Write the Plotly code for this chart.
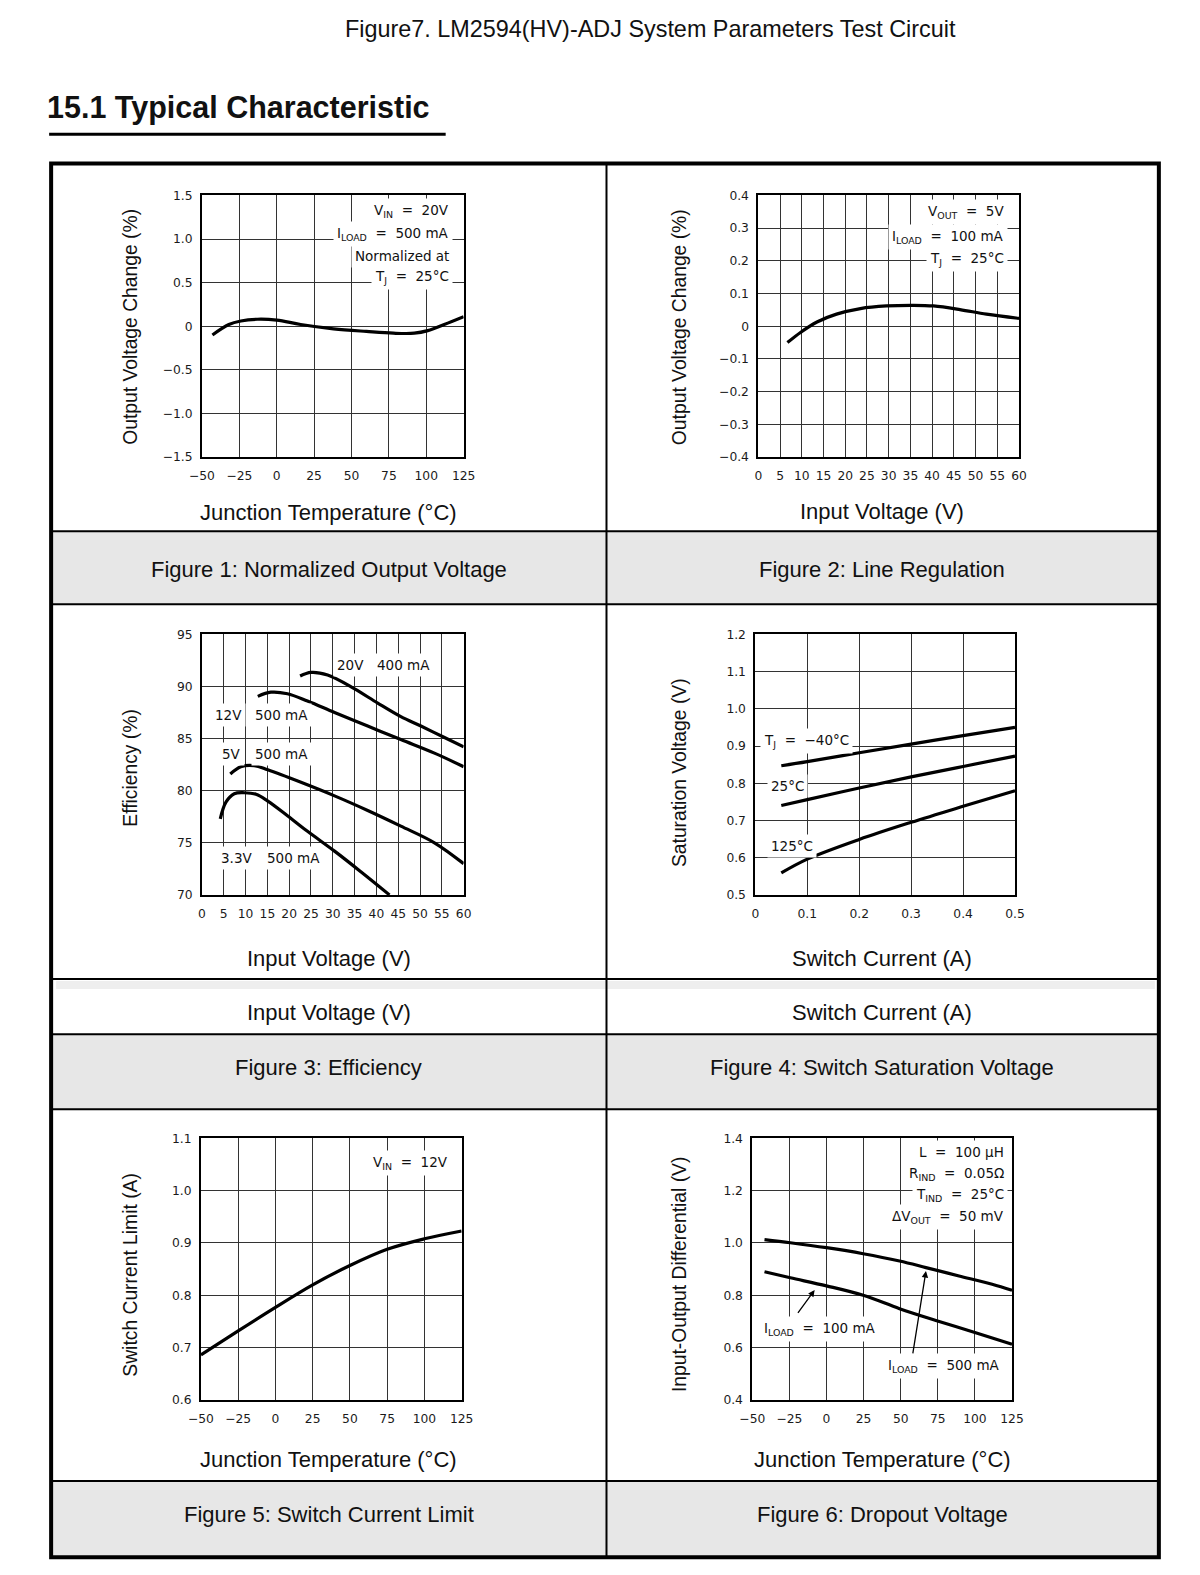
import plotly.graph_objects as go

# the page keeps its default 8px body margin; the photographed page comes out
# slightly squeezed (about 0.98 wide, 0.989 high), so positions are mapped
# back through that before being turned into paper fractions
OFF = 8
W, H = 1184, 1559
SX, DX = 0.98, 12
SY, DY = 0.989, 7
FONT = "Liberation Sans, Arial, sans-serif"
PLOTTER = "DejaVu Sans, sans-serif"
GRID = "#333333"


def px(x):
    return ((x - DX) / SX - OFF) / W


def py(y):
    return 1 - ((y - DY) / SY - OFF) / H


# ---- Figure 1: normalized output voltage vs junction temperature
fig1_temp = [-43, -32, -24, -13, 0, 16, 38, 60, 78, 92, 101, 112, 125]
fig1_change = [-0.10, 0.02, 0.06, 0.08, 0.07, 0.02, -0.03, -0.06, -0.08, -0.08, -0.05, 0.02, 0.11]
fig1_xticks = [-50, -25, 0, 25, 50, 75, 100, 125]
fig1_xtext = ["−50", "−25", "0", "25", "50", "75", "100", "125"]
fig1_yticks = [-1.5, -1.0, -0.5, 0, 0.5, 1.0, 1.5]
fig1_ytext = ["−1.5", "−1.0", "−0.5", "0", "0.5", "1.0", "1.5"]

# ---- Figure 2: line regulation
fig2_vin = [6.7, 9.7, 13.5, 18, 23.5, 29.5, 35.7, 40.3, 46.4, 52.5, 60]
fig2_change = [-0.05, -0.019, 0.013, 0.037, 0.054, 0.062, 0.064, 0.062, 0.051, 0.037, 0.024]
fig2_xticks = list(range(0, 61, 5))
fig2_xtext = [str(v) for v in fig2_xticks]
fig2_yticks = [-0.4, -0.3, -0.2, -0.1, 0, 0.1, 0.2, 0.3, 0.4]
fig2_ytext = ["−0.4", "−0.3", "−0.2", "−0.1", "0", "0.1", "0.2", "0.3", "0.4"]

# ---- Figure 3: efficiency
eff20_vin = [22.5, 25, 28.8, 34.9, 40.3, 45.6, 50.2, 55.6, 60]
eff20 = [91.0, 91.35, 91.1, 89.8, 88.4, 87.1, 86.2, 85.1, 84.2]
eff12_vin = [12.8, 15.8, 19.6, 24.2, 30.4, 38, 45.6, 53.3, 60]
eff12 = [89.05, 89.45, 89.3, 88.6, 87.5, 86.2, 84.9, 83.6, 82.3]
eff5_vin = [6.5, 8.9, 12.0, 15.1, 22.7, 30.4, 38, 45.6, 53.3, 60]
eff5 = [81.6, 82.3, 82.4, 82.0, 80.8, 79.5, 78.1, 76.6, 75.0, 73.0]
eff33_vin = [4.2, 5.5, 7.4, 9.7, 12.4, 15.1, 19.6, 24.2, 30.4, 36.5, 43.0]
eff33 = [77.3, 78.9, 79.7, 79.8, 79.65, 79.0, 77.6, 76.1, 74.2, 72.2, 70.0]
fig3_xticks = list(range(0, 61, 5))
fig3_xtext = [str(v) for v in fig3_xticks]
fig3_yticks = [70, 75, 80, 85, 90, 95]
fig3_ytext = [str(v) for v in fig3_yticks]

# ---- Figure 4: switch saturation voltage
isw = [0.05, 0.1, 0.2, 0.3, 0.4, 0.5]
vsat_m40 = [0.847, 0.858, 0.882, 0.905, 0.928, 0.95]
vsat_25 = [0.74, 0.756, 0.787, 0.817, 0.845, 0.873]
vsat_125 = [0.559, 0.596, 0.649, 0.695, 0.738, 0.78]
fig4_xticks = [0, 0.1, 0.2, 0.3, 0.4, 0.5]
fig4_xtext = ["0", "0.1", "0.2", "0.3", "0.4", "0.5"]
fig4_yticks = [0.5, 0.6, 0.7, 0.8, 0.9, 1.0, 1.1, 1.2]
fig4_ytext = ["0.5", "0.6", "0.7", "0.8", "0.9", "1.0", "1.1", "1.2"]

# ---- Figure 5: switch current limit
fig5_temp = [-50, -25, 0, 25, 50, 75, 100, 125]
fig5_limit = [0.686, 0.732, 0.777, 0.82, 0.857, 0.888, 0.908, 0.923]
fig5_yticks = [0.6, 0.7, 0.8, 0.9, 1.0, 1.1]
fig5_ytext = ["0.6", "0.7", "0.8", "0.9", "1.0", "1.1"]

# ---- Figure 6: dropout voltage
fig6_temp = [-41.8, -24.4, 0, 24.7, 49.2, 67, 89.3, 111.6, 125]
drop_500 = [1.013, 1.001, 0.982, 0.959, 0.931, 0.906, 0.874, 0.842, 0.819]
fig6_temp_100 = [-41.8, -24.4, 0, 24.7, 49.2, 73.7, 100.5, 125]
drop_100 = [0.890, 0.867, 0.836, 0.800, 0.749, 0.704, 0.657, 0.613]
fig6_yticks = [0.4, 0.6, 0.8, 1.0, 1.2, 1.4]
fig6_ytext = ["0.4", "0.6", "0.8", "1.0", "1.2", "1.4"]

temp_ticks = fig1_xticks
temp_text = fig1_xtext

fig = go.Figure()


def setup_axes(n, xpix, ypix, xr, yr, xt, xtt, yt, ytt):
    sfx = "" if n == 1 else str(n)
    common = dict(showgrid=True, gridcolor=GRID, gridwidth=1.3, showline=True,
                  mirror=True, linecolor="black", linewidth=1.8, zeroline=False,
                  ticks="", fixedrange=True,
                  tickfont=dict(family=PLOTTER, size=12.3, color="#1a1a1a"))
    fig.layout["xaxis" + sfx] = dict(domain=[px(xpix[0]), px(xpix[1])], range=xr,
                                     anchor="y" + sfx, tickmode="array", tickvals=xt,
                                     ticktext=xtt, ticklabelstandoff=6, **common)
    fig.layout["yaxis" + sfx] = dict(domain=[py(ypix[1]), py(ypix[0])], range=yr,
                                     anchor="x" + sfx, tickmode="array", tickvals=yt,
                                     ticktext=ytt, ticklabelstandoff=5, **common)


setup_axes(1, (201, 463), (195, 456), [-50, 125], [-1.5, 1.5], fig1_xticks, fig1_xtext, fig1_yticks, fig1_ytext)
setup_axes(2, (758, 1019), (195, 456), [0, 60], [-0.4, 0.4], fig2_xticks, fig2_xtext, fig2_yticks, fig2_ytext)
setup_axes(3, (201, 463), (633, 893), [0, 60], [70, 95], fig3_xticks, fig3_xtext, fig3_yticks, fig3_ytext)
setup_axes(4, (755, 1015), (633, 893), [0, 0.5], [0.5, 1.2], fig4_xticks, fig4_xtext, fig4_yticks, fig4_ytext)
setup_axes(5, (200, 461), (1136, 1397), [-50, 125], [0.6, 1.1], temp_ticks, temp_text, fig5_yticks, fig5_ytext)
setup_axes(6, (752, 1012), (1136, 1397), [-50, 125], [0.4, 1.4], temp_ticks, temp_text, fig6_yticks, fig6_ytext)


def curve(x, y, n):
    sfx = "" if n == 1 else str(n)
    fig.add_trace(go.Scatter(x=x, y=y, mode="lines", xaxis="x" + sfx, yaxis="y" + sfx,
                             line=dict(color="black", width=3.2, shape="spline"),
                             showlegend=False, hoverinfo="skip"))


curve(fig1_temp, fig1_change, 1)
curve(fig2_vin, fig2_change, 2)
curve(eff20_vin, eff20, 3)
curve(eff12_vin, eff12, 3)
curve(eff5_vin, eff5, 3)
curve(eff33_vin, eff33, 3)
curve(isw, vsat_m40, 4)
curve(isw, vsat_25, 4)
curve(isw, vsat_125, 4)
curve(fig5_temp, fig5_limit, 5)
curve(fig6_temp, drop_500, 6)
curve(fig6_temp_100, drop_100, 6)

annotations = []


def note(text, x, y, size=13.5, xanchor="center", bg="white", angle=0,
         color="#111", family=PLOTTER):
    annotations.append(dict(text=text, x=px(x), y=py(y), xref="paper", yref="paper",
                            xanchor=xanchor, yanchor="middle", showarrow=False,
                            textangle=angle, bgcolor=bg, borderpad=3,
                            font=dict(family=family, size=size, color=color)))


NB = "\u00a0"
EQ = NB + " =" + NB + " "

# page titles
note("Figure7. LM2594(HV)-ADJ System Parameters Test Circuit", 650, 29,
     size=23.4, bg=None, family=FONT)
note("<b>15.1 Typical Characteristic</b>", 42, 107, size=30.5, xanchor="left",
     bg=None, family=FONT)

# chart labels
note("V<sub>IN</sub>" + EQ + "20V", 452, 211, xanchor="right")
note("I<sub>LOAD</sub>" + EQ + "500 mA", 452, 233, xanchor="right")
note("Normalized at", 452, 255, xanchor="right")
note("T<sub>J</sub>" + EQ + "25°C", 452, 276, xanchor="right")

note("V<sub>OUT</sub>" + EQ + "5V", 1008, 212, xanchor="right")
note("I<sub>LOAD</sub>" + EQ + "100 mA", 1008, 236, xanchor="right")
note("T<sub>J</sub>" + EQ + "25°C", 1008, 258, xanchor="right")

note("20V", 350, 664)
note("400 mA", 403, 664)
note("12V", 228, 713)
note("500 mA", 281, 713)
note("5V", 231, 752)
note("500 mA", 281, 752)
note("3.3V", 236, 856)
note("500 mA", 293, 856)

note("T<sub>J</sub>" + EQ + "−40°C", 760, 739, xanchor="left")
note("25°C", 767, 784, xanchor="left")
note("125°C", 767, 844, xanchor="left")

note("V<sub>IN</sub>" + EQ + "12V", 451, 1161, xanchor="right")

note("L" + EQ + "100 μH", 1008, 1150, xanchor="right")
note("R<sub>IND</sub>" + EQ + "0.05Ω", 1008, 1172, xanchor="right")
note("T<sub>IND</sub>" + EQ + "25°C", 1008, 1193, xanchor="right")
note("ΔV<sub>OUT</sub>" + EQ + "50 mV", 1008, 1214, xanchor="right")
note("I<sub>LOAD</sub>" + EQ + "100 mA", 760, 1326, xanchor="left")
note("I<sub>LOAD</sub>" + EQ + "500 mA", 884, 1363, xanchor="left")

# arrows pointing from the load labels to the curves
for tail, head in [((-20, 0.727), (-8, 0.82)), ((58, 0.572), (67, 0.893))]:
    annotations.append(dict(text="", x=head[0], y=head[1], xref="x6", yref="y6",
                            ax=tail[0], ay=tail[1], axref="x6", ayref="y6",
                            showarrow=True, arrowhead=2, arrowsize=1, arrowwidth=1.3,
                            arrowcolor="black"))

# axis titles
TITLE = 22
YTITLE = 19.3
note("Output Voltage Change (%)", 130, 326, size=YTITLE, angle=-90, bg=None, family=FONT)
note("Output Voltage Change (%)", 679, 326, size=YTITLE, angle=-90, bg=None, family=FONT)
note("Efficiency (%)", 130, 766, size=YTITLE, angle=-90, bg=None, family=FONT)
note("Saturation Voltage (V)", 679, 771, size=YTITLE, angle=-90, bg=None, family=FONT)
note("Switch Current Limit (A)", 130, 1272, size=YTITLE, angle=-90, bg=None, family=FONT)
note("Input-Output Differential (V)", 679, 1272, size=YTITLE, angle=-90, bg=None, family=FONT)

note("Junction Temperature (°C)", 328, 511, size=TITLE, bg=None, family=FONT)
note("Input Voltage (V)", 882, 510, size=TITLE, bg=None, family=FONT)
note("Input Voltage (V)", 328, 956, size=TITLE, bg=None, family=FONT)
note("Switch Current (A)", 882, 956, size=TITLE, bg=None, family=FONT)
note("Input Voltage (V)", 328, 1010, size=TITLE, bg=None, family=FONT)
note("Switch Current (A)", 882, 1010, size=TITLE, bg=None, family=FONT)
note("Junction Temperature (°C)", 328, 1456, size=TITLE, bg=None, family=FONT)
note("Junction Temperature (°C)", 882, 1456, size=TITLE, bg=None, family=FONT)

# captions
note("Figure 1: Normalized Output Voltage", 328, 568, size=TITLE, bg=None, family=FONT)
note("Figure 2: Line Regulation", 882, 568, size=TITLE, bg=None, family=FONT)
note("Figure 3: Efficiency", 328, 1065, size=TITLE, bg=None, family=FONT)
note("Figure 4: Switch Saturation Voltage", 882, 1065, size=TITLE, bg=None, family=FONT)
note("Figure 5: Switch Current Limit", 328, 1511, size=TITLE, bg=None, family=FONT)
note("Figure 6: Dropout Voltage", 882, 1511, size=TITLE, bg=None, family=FONT)

# table frame
shapes = []


def rect(x0, y0, x1, y1, fill):
    shapes.append(dict(type="rect", xref="paper", yref="paper", x0=px(x0), x1=px(x1),
                       y0=py(y1), y1=py(y0), fillcolor=fill, line=dict(width=0), layer="below"))


def hline(y, x0, x1, w=2):
    shapes.append(dict(type="line", xref="paper", yref="paper", x0=px(x0), x1=px(x1),
                       y0=py(y), y1=py(y), line=dict(color="black", width=w)))


rect(50, 530, 1159, 603, "#e7e7e7")
rect(50, 1032, 1159, 1107, "#e7e7e7")
rect(50, 1478, 1159, 1554, "#e7e7e7")
rect(55, 979, 1155, 987, "#eeeeee")

for y in [530, 603, 977, 1032, 1107, 1478]:
    hline(y, 50, 1159)
shapes.append(dict(type="line", xref="paper", yref="paper", x0=px(606), x1=px(606),
                   y0=py(1554), y1=py(163), line=dict(color="black", width=2)))
shapes.append(dict(type="rect", xref="paper", yref="paper", x0=px(50), x1=px(1159),
                   y0=py(1554), y1=py(163), line=dict(color="black", width=4)))
hline(134, 48, 445, w=3)

fig.update_layout(
    width=W, height=H,
    autosize=False,
    margin=dict(l=0, r=0, t=0, b=0),
    paper_bgcolor="white",
    plot_bgcolor="white",
    showlegend=False,
    annotations=annotations,
    shapes=shapes,
)

fig.write_html("out.html", config={"displayModeBar": False, "responsive": False})
